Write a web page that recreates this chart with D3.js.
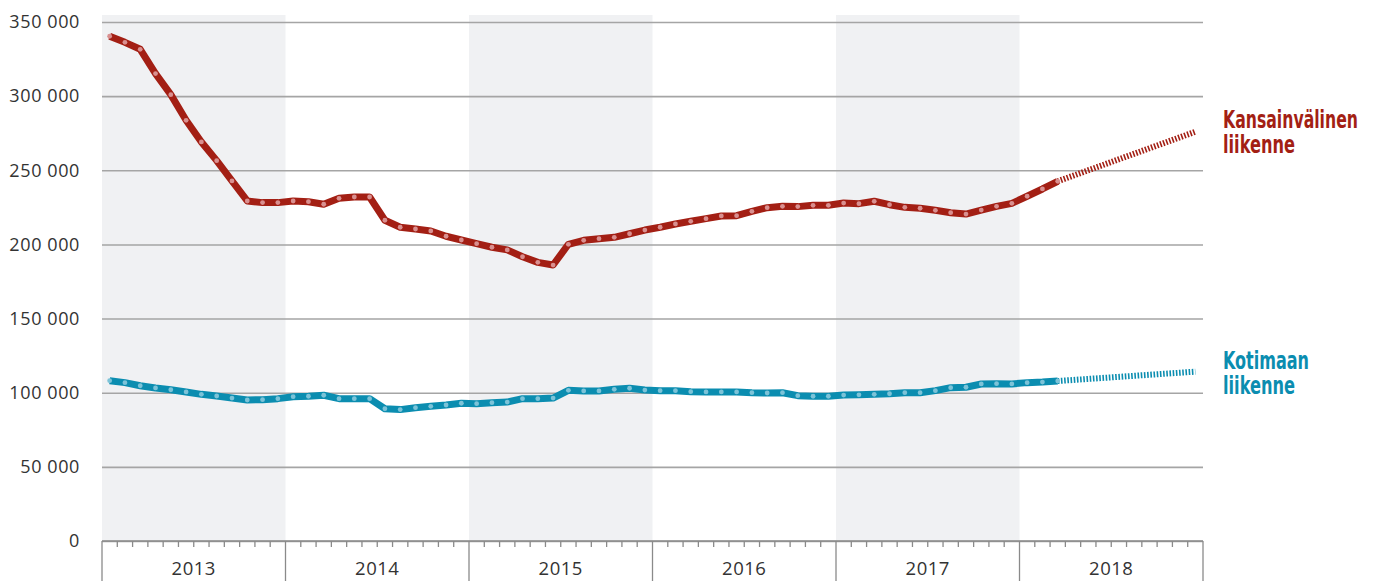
<!DOCTYPE html>
<html>
<head>
<meta charset="utf-8">
<script src="https://cdnjs.cloudflare.com/ajax/libs/d3/7.8.5/d3.min.js"></script>
<style>
  body { margin: 0; background: #fff; }
  svg { display: block; }
</style>
</head>
<body>
<svg id="chart" width="1378" height="581"></svg>
<script>
// years shown on the x axis, one band per year
var years = [2013, 2014, 2015, 2016, 2017, 2018];
var shadedYears = [2013, 2015, 2017];
var yTicks = [0, 50000, 100000, 150000, 200000, 250000, 300000, 350000];

// monthly values Jan 2013 - Mar 2018
var kansainvalinen = [
  340400, 336300, 331600, 315200, 301000, 283700, 269100, 256500, 242800, 229300, 228200, 228200,
  229300, 228800, 227100, 231100, 232000, 232000, 216300, 211600, 210400, 209100, 205500, 203000,
  200500, 198100, 196300, 191700, 187900, 186100, 200100, 202800, 203900, 204800, 207200, 209700,
  211600, 213800, 215600, 217400, 219200, 219400, 222300, 224800, 225700, 225500, 226400, 226400,
  227900, 227500, 229100, 226800, 225000, 224400, 223000, 221400, 220500, 223200, 225700, 227700,
  232500, 237400, 242600
];
var kotimaan = [
  108100, 106800, 104700, 103200, 102000, 100500, 98900, 97800, 96400, 95100, 95300, 96000,
  97300, 97600, 98300, 96000, 96000, 96000, 89200, 88600, 89900, 90800, 91700, 92900,
  92600, 93300, 93700, 96000, 96000, 96400, 101600, 101200, 101200, 102300, 103000, 101800,
  101400, 101400, 100700, 100500, 100500, 100500, 100000, 99800, 100000, 98000, 97600, 97600,
  98400, 98600, 98900, 99300, 100000, 100000, 101400, 103400, 103700, 105900, 106100, 105900,
  106800, 107200, 107900
];
// forecast: start (Mar 2018) and end (Dec 2018), month index from Jan 2013
var ennusteKv = [[62, 242600], [71, 276000]];
var ennusteKot = [[62, 107900], [71, 114200]];

var labels = [
  { lines: ["Kansainvälinen", "liikenne"], widths: [135, 72], color: "#a31f14", value: 278500 },
  { lines: ["Kotimaan", "liikenne"], widths: [86, 72], color: "#0b8db0", value: 116000 }
];

var W = 1378, H = 581;
var margin = { left: 102, right: 175, top: 22, bottom: 40 };
var svg = d3.select("#chart");

var months = d3.range(years.length * 12);
var x = d3.scaleBand().domain(months).range([margin.left, W - margin.right]).padding(0);
var xMid = i => x(i) + x.bandwidth() / 2;
var xYear = d3.scaleBand().domain(years).range([margin.left, W - margin.right]).padding(0);
var y = d3.scaleLinear().domain([0, 350000]).range([H - margin.bottom, margin.top]);

// shaded year bands
svg.append("g").selectAll("rect")
  .data(shadedYears)
  .enter().append("rect")
  .attr("x", d => xYear(d))
  .attr("y", 15)
  .attr("width", xYear.bandwidth())
  .attr("height", y(0) - 15)
  .attr("fill", "#f0f1f3");

// grid + y labels
var yAxis = d3.axisLeft(y).tickValues(yTicks)
  .tickSize(-(W - margin.right - margin.left))
  .tickFormat(d => d3.format(",")(d).replace(/,/g, " "));
var gy = svg.append("g").attr("transform", "translate(" + margin.left + ",0)").call(yAxis);
gy.select(".domain").remove();
gy.selectAll(".tick line").attr("stroke", "#a5a5a5").attr("stroke-width", 1.6);
gy.selectAll(".tick text")
  .attr("x", -22)
  .attr("fill", "#333")
  .style("font", "18px 'Open Sans', sans-serif")
  .style("letter-spacing", "0.6px");

// x axis: baseline, month ticks, year dividers, year labels
var gx = svg.append("g");
gx.append("line")
  .attr("x1", margin.left).attr("x2", W - margin.right)
  .attr("y1", y(0)).attr("y2", y(0))
  .attr("stroke", "#8a8a8a").attr("stroke-width", 1.6);
gx.selectAll("line.m")
  .data(months.filter(m => m % 12 !== 0))
  .enter().append("line")
  .attr("x1", d => x(d)).attr("x2", d => x(d))
  .attr("y1", y(0)).attr("y2", y(0) + 6)
  .attr("stroke", "#8a8a8a").attr("stroke-width", 1.3);
gx.selectAll("line.yr")
  .data(years.concat([years[years.length - 1] + 1]))
  .enter().append("line")
  .attr("x1", (d, i) => margin.left + i * xYear.bandwidth())
  .attr("x2", (d, i) => margin.left + i * xYear.bandwidth())
  .attr("y1", y(0)).attr("y2", H)
  .attr("stroke", "#8a8a8a").attr("stroke-width", 1.3);
gx.selectAll("text")
  .data(years)
  .enter().append("text")
  .attr("x", d => xYear(d) + xYear.bandwidth() / 2)
  .attr("y", 575)
  .attr("text-anchor", "middle")
  .attr("fill", "#333")
  .style("font", "18.5px 'Open Sans', sans-serif")
  .style("letter-spacing", "0.5px")
  .text(d => d);

var line = d3.line().x((d, i) => xMid(i)).y(d => y(d));
var fline = d3.line().x(d => xMid(d[0])).y(d => y(d[1]));

function drawSeries(values, forecast, color, dotColor) {
  svg.append("path")
    .attr("d", fline(forecast))
    .attr("fill", "none")
    .attr("stroke", color)
    .attr("stroke-width", 6)
    .attr("stroke-dasharray", "1.6,1.6");
  svg.append("path")
    .datum(values)
    .attr("d", line)
    .attr("fill", "none")
    .attr("stroke", color)
    .attr("stroke-width", 7)
    .attr("stroke-linejoin", "round");
  svg.append("g").selectAll("circle")
    .data(values)
    .enter().append("circle")
    .attr("cx", (d, i) => xMid(i))
    .attr("cy", d => y(d))
    .attr("r", 2.4)
    .attr("fill", dotColor);
}

drawSeries(kansainvalinen, ennusteKv, "#a31f14", "#d99090");
drawSeries(kotimaan, ennusteKot, "#0b8db0", "#7cc3d8");

// series labels
labels.forEach(function (l) {
  l.lines.forEach(function (s, i) {
    svg.append("text")
      .attr("x", 1223)
      .attr("y", y(l.value) + i * 25)
      .attr("fill", l.color)
      .attr("textLength", l.widths[i])
      .attr("lengthAdjust", "spacingAndGlyphs")
      .style("font-family", "'DejaVu Sans Condensed', 'Liberation Sans Narrow', sans-serif")
      .style("font-weight", "bold")
      .style("font-size", "24px")
      .text(s);
  });
});
</script>
</body>
</html>
